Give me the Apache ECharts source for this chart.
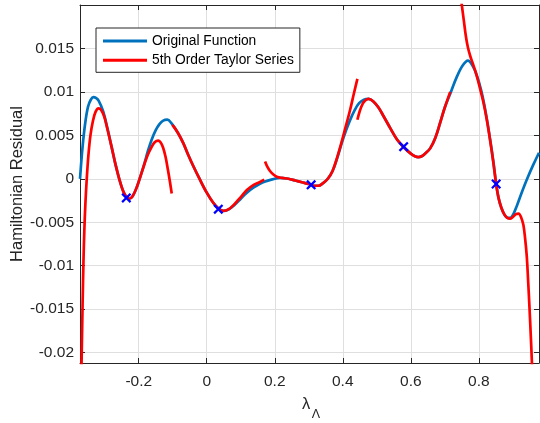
<!DOCTYPE html>
<html>
<head>
<meta charset="utf-8">
<script src="https://cdn.jsdelivr.net/npm/echarts@6/dist/echarts.min.js"></script>
<style>
html,body{margin:0;padding:0;background:#fff;}
#chart{width:540px;height:423px;}
</style>
</head>
<body>
<div id="chart"></div>
<script>
// ---- Data ----
const seriesNames = ['Original Function', '5th Order Taylor Series'];
const xLabelMain = 'λ';
const xLabelSub = 'Λ';
const yLabel = 'Hamiltonian Residual';
const xRange = [-0.3727, 0.977];
const yRange = [-0.0212, 0.0200];

const originalFunction = [
  [-0.3727, 0.0000], [-0.368, 0.0024], [-0.362, 0.0049], [-0.356, 0.0068], [-0.349, 0.0083],
  [-0.341, 0.0091], [-0.333, 0.0094], [-0.326, 0.0093], [-0.318, 0.0090], [-0.305, 0.0078],
  [-0.292, 0.0058], [-0.28, 0.0037], [-0.268, 0.0016], [-0.256, -0.0002], [-0.245, -0.0015],
  [-0.236, -0.0021], [-0.228, -0.0023], [-0.218, -0.0020], [-0.206, -0.0010], [-0.194, 0.0004],
  [-0.183, 0.0018], [-0.173, 0.0032], [-0.162, 0.0045], [-0.15, 0.0056], [-0.139, 0.0063],
  [-0.128, 0.0067], [-0.116, 0.0068], [-0.104, 0.0064], [-0.085, 0.0053], [-0.069, 0.0041],
  [-0.055, 0.0028], [-0.04, 0.0015], [-0.02, -0.0001], [0.0, -0.0016], [0.018, -0.0027],
  [0.034, -0.0034], [0.049, -0.0037], [0.065, -0.0035], [0.082, -0.0030], [0.1, -0.0023],
  [0.118, -0.0016], [0.138, -0.0010], [0.155, -0.0006], [0.172, -0.0003], [0.19, -0.0001],
  [0.215, 0.0001], [0.24, 0.0000], [0.26, -0.0002], [0.28, -0.0004], [0.3, -0.0006],
  [0.315, -0.0008], [0.328, -0.0008], [0.342, -0.0005], [0.356, 0.0000], [0.37, 0.0009],
  [0.383, 0.0023], [0.397, 0.0041], [0.41, 0.0056], [0.422, 0.0068], [0.435, 0.0079],
  [0.448, 0.0087], [0.462, 0.0091], [0.476, 0.0092], [0.49, 0.0089], [0.505, 0.0082],
  [0.52, 0.0072], [0.54, 0.0058], [0.56, 0.0045], [0.58, 0.0036], [0.6, 0.0029],
  [0.612, 0.0026], [0.622, 0.0025], [0.632, 0.0026], [0.642, 0.0029], [0.657, 0.0035],
  [0.672, 0.0047], [0.686, 0.0064], [0.7, 0.0082], [0.718, 0.0100], [0.735, 0.0117],
  [0.752, 0.0130], [0.768, 0.0136], [0.782, 0.0130], [0.795, 0.0118], [0.808, 0.0100],
  [0.82, 0.0077], [0.833, 0.0046], [0.843, 0.0019], [0.851, -0.0006], [0.858, -0.0022],
  [0.866, -0.0033], [0.875, -0.0041], [0.884, -0.0045], [0.892, -0.0045], [0.9, -0.0042],
  [0.912, -0.0031], [0.926, -0.0016], [0.941, -0.0001], [0.96, 0.0016], [0.977, 0.0030]
];

const taylorSeg1 = [
  [-0.3727, -0.032], [-0.3676, -0.020], [-0.365, -0.0143], [-0.3625, -0.0095], [-0.360, -0.0060],
  [-0.357, -0.0030], [-0.353, -0.0001], [-0.348, 0.0027], [-0.342, 0.0050], [-0.335, 0.0066],
  [-0.327, 0.0077], [-0.318, 0.0081], [-0.31, 0.0079], [-0.301, 0.0071], [-0.292, 0.0057],
  [-0.28, 0.0037], [-0.268, 0.0016], [-0.256, -0.0002], [-0.245, -0.0015], [-0.236, -0.0021],
  [-0.228, -0.0023], [-0.218, -0.0020], [-0.206, -0.0010], [-0.194, 0.0004], [-0.183, 0.0017],
  [-0.173, 0.0028], [-0.163, 0.0036], [-0.153, 0.0042], [-0.143, 0.0044], [-0.136, 0.0042],
  [-0.1285, 0.0036], [-0.121, 0.0025], [-0.114, 0.0010], [-0.108, -0.0004], [-0.103, -0.0017]
];
const taylorSeg2 = [
  [-0.101, 0.0062], [-0.085, 0.0053], [-0.069, 0.0041], [-0.055, 0.0028], [-0.04, 0.0015],
  [-0.02, -0.0001], [0.0, -0.0016], [0.018, -0.0027], [0.034, -0.0034], [0.049, -0.0037],
  [0.065, -0.0035], [0.082, -0.0029], [0.1, -0.0021], [0.118, -0.0013], [0.138, -0.0007],
  [0.155, -0.0004], [0.169, -0.0001]
];
const taylorSeg3 = [
  [0.1715, 0.0020], [0.178, 0.0014], [0.186, 0.0009], [0.196, 0.0005], [0.208, 0.0002],
  [0.222, 0.0001], [0.24, 0.0000], [0.26, -0.0002], [0.28, -0.0004], [0.3, -0.0006],
  [0.315, -0.0008], [0.328, -0.0008], [0.342, -0.0005], [0.356, 0.0000], [0.37, 0.0009],
  [0.383, 0.0024], [0.397, 0.0043], [0.41, 0.0062], [0.422, 0.0080], [0.432, 0.0097],
  [0.443, 0.0115]
];
const taylorSeg4 = [
  [0.443, 0.0068], [0.45, 0.0078], [0.458, 0.0086], [0.466, 0.0090], [0.476, 0.0092],
  [0.49, 0.0089], [0.505, 0.0082], [0.52, 0.0072], [0.54, 0.0058], [0.56, 0.0045],
  [0.58, 0.0036], [0.6, 0.0029], [0.612, 0.0026], [0.622, 0.0025], [0.632, 0.0026],
  [0.642, 0.0029], [0.657, 0.0035], [0.672, 0.0047], [0.686, 0.0064], [0.7, 0.0082],
  [0.716, 0.0100]
];
const taylorSeg5 = [
  [0.715, 0.034], [0.73, 0.027], [0.742, 0.0225], [0.75, 0.0200], [0.756, 0.0182],
  [0.762, 0.0164], [0.768, 0.0151], [0.775, 0.0141], [0.782, 0.0133], [0.789, 0.0125],
  [0.797, 0.0114], [0.806, 0.0100], [0.8135, 0.0088], [0.823, 0.0069], [0.833, 0.0045],
  [0.843, 0.0018], [0.851, -0.0006], [0.858, -0.0022], [0.866, -0.0033], [0.875, -0.0041],
  [0.884, -0.0045], [0.892, -0.0046], [0.9, -0.0044], [0.908, -0.0041], [0.917, -0.0040],
  [0.924, -0.0044], [0.931, -0.0053], [0.936, -0.0068], [0.941, -0.0089], [0.945, -0.0117],
  [0.949, -0.0148], [0.953, -0.0182], [0.956, -0.0210], [0.962, -0.0275], [0.97, -0.038],
  [0.977, -0.048]
];
const expansionPoints = [
  [-0.2365, -0.0022], [0.034, -0.0035], [0.307, -0.0007], [0.579, 0.0037], [0.851, -0.0006]
];

// ---- Chart ----
const FONT = "'Liberation Sans', Arial, Helvetica, sans-serif";
const AX = '#262626';
const GRIDC = '#dfdfdf';
const chart = echarts.init(document.getElementById('chart'), null, {renderer: 'canvas'});

const taylorSegs = [taylorSeg1, taylorSeg2, taylorSeg3, taylorSeg4, taylorSeg5];
const redSeries = taylorSegs.map(seg => ({
  name: seriesNames[1], type: 'line', data: seg, showSymbol: false, symbol: 'none',
  smooth: 0.35, clip: true,
  lineStyle: {color: '#ff0000', width: 2.7}, itemStyle: {color: '#ff0000'},
  z: 3, silent: true
}));

const xMarker = 'path://M0,1.6 L1.6,0 L5,3.4 L8.4,0 L10,1.6 L6.6,5 L10,8.4 L8.4,10 L5,6.6 L1.6,10 L0,8.4 L3.4,5 Z';

const baseX = {type: 'value', min: xRange[0], max: xRange[1], splitNumber: 7};
const baseY = {type: 'value', min: yRange[0], max: yRange[1], splitNumber: 8};

chart.setOption({
  animation: false,
  backgroundColor: '#ffffff',
  grid: {left: 80, top: 5, right: 1, bottom: 60, containLabel: false},
  legend: {
    orient: 'vertical', left: 96, top: 28,
    data: seriesNames,
    icon: 'rect', itemWidth: 44, itemHeight: 3, itemGap: 5.3,
    padding: [6, 6, 5, 7],
    backgroundColor: '#ffffff', borderColor: AX, borderWidth: 1, borderRadius: 0,
    textStyle: {fontFamily: FONT, fontSize: 13.8, color: '#000000', padding: [0, 0, 0, 0]},
    selectedMode: false
  },
  xAxis: [
    Object.assign({}, baseX, {
      position: 'bottom',
      axisLine: {show: true, onZero: false, lineStyle: {color: AX, width: 1}},
      axisTick: {show: true, inside: true, length: 5, lineStyle: {color: AX}},
      axisLabel: {show: true, color: AX, fontFamily: FONT, fontSize: 15.5, margin: 11,
        showMinLabel: false, showMaxLabel: false},
      splitLine: {show: true, lineStyle: {color: GRIDC, width: 1}}
    }),
    Object.assign({}, baseX, {
      position: 'top',
      axisLine: {show: true, onZero: false, lineStyle: {color: AX, width: 1}},
      axisTick: {show: true, inside: true, length: 5, lineStyle: {color: AX}},
      axisLabel: {show: false},
      splitLine: {show: false}
    })
  ],
  yAxis: [
    Object.assign({}, baseY, {
      position: 'left',
      axisLine: {show: true, onZero: false, lineStyle: {color: AX, width: 1}},
      axisTick: {show: true, inside: true, length: 5, lineStyle: {color: AX}},
      axisLabel: {show: true, color: AX, fontFamily: FONT, fontSize: 15.5, margin: 6,
        showMinLabel: false, showMaxLabel: false},
      splitLine: {show: true, lineStyle: {color: GRIDC, width: 1}}
    }),
    Object.assign({}, baseY, {
      position: 'right',
      axisLine: {show: true, onZero: false, lineStyle: {color: AX, width: 1}},
      axisTick: {show: true, inside: true, length: 5, lineStyle: {color: AX}},
      axisLabel: {show: false},
      splitLine: {show: false}
    })
  ],
  series: [
    {
      name: seriesNames[0], type: 'line', data: originalFunction, showSymbol: false, symbol: 'none',
      smooth: 0.35, clip: true,
      lineStyle: {color: '#0072bd', width: 2.7}, itemStyle: {color: '#0072bd'},
      z: 2, silent: true
    }
  ].concat(redSeries).concat([
    {
      name: 'Expansion Points', type: 'scatter', data: expansionPoints,
      symbol: xMarker, symbolSize: 10, itemStyle: {color: '#0000ff', opacity: 1},
      z: 5, silent: true
    }
  ]),
  graphic: [
    {
      type: 'text', x: 17, y: 184, rotation: Math.PI / 2,
      style: {text: yLabel, fontFamily: FONT, fontSize: 16.5, fill: AX, align: 'center', verticalAlign: 'middle'}
    },
    {
      type: 'text', x: 306, y: 404,
      style: {text: xLabelMain, fontFamily: FONT, fontSize: 16.5, fill: AX, align: 'center', verticalAlign: 'middle'}
    },
    {
      type: 'text', x: 316, y: 415,
      style: {text: xLabelSub, fontFamily: FONT, fontSize: 12.5, fill: AX, align: 'center', verticalAlign: 'middle'}
    }
  ]
});
</script>
</body>
</html>
